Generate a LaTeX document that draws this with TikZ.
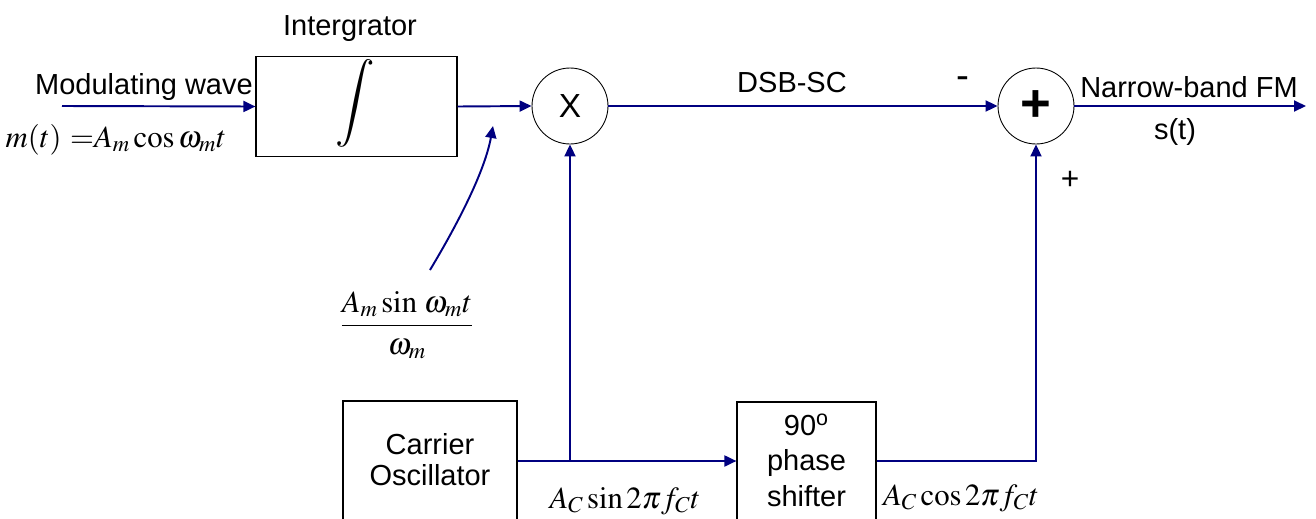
\documentclass[tikz,border=0pt]{standalone}
\usepackage{amsmath}
\usepackage{mathptmx}
\usepackage[no-math]{fontspec}
\setmainfont{Liberation Sans}
\usetikzlibrary{arrows.meta, positioning}
\definecolor{wire}{RGB}{0,0,128}
\tikzset{
  block/.style={
    draw,
    rectangle,
    line width=0.7pt,
  },
  mixer/.style={
    draw,
    circle,
    minimum size=1.52cm,
    inner sep=0pt,
    line width=0.5pt,
  },
  lbl/.style={
    font=\fontsize{16.5}{18}\selectfont,
    inner sep=0pt,
  },
  arrow/.style={
    -{Triangle[length=0.24cm, width=0.22cm]},
    wire,
    line width=1.1pt
  },
  wireline/.style={
    wire,
    line width=1.1pt
  }
}

\begin{document}
\begin{tikzpicture}[x=0.02cm, y=-0.02cm]
  \useasboundingbox (0,0) rectangle (1316,518);
  \clip (0,0) rectangle (1316,518);

  % Blocs
  \node[block, minimum width=4.02cm, minimum height=2cm] (integ) at (356.5,106.5) {};
  \node[inner sep=0pt] (intsign) at (355,103) {\fontsize{25}{25}\selectfont$\displaystyle\int$};
  \node[mixer, font=\fontsize{19}{19}\selectfont] (mult) at (570,106) {X};
  \node[mixer, font=\fontsize{30}{30}\selectfont\bfseries] (sum) at (1036,106) {+};
  \node[block, minimum width=3.48cm, minimum height=2.4cm] (osc) at (430,461) {};
  \node[block, minimum width=2.78cm, minimum height=2.36cm] (shift) at (806.5,461) {};
  \node[lbl, align=center] (osctxt) at (430,459.5) {Carrier\\Oscillator};
  \node[lbl, align=center, font=\fontsize{16.5}{20}\selectfont] (shifttxt) at (806.5,460) {90\textsuperscript{o}\\phase\\shifter};

  % Textes
  \node[lbl, anchor=base] (intlbl) at (350,35) {Intergrator};
  \node[lbl, anchor=base] (modlbl) at (144,94) {Modulating wave};
  \node[lbl, anchor=base, font=\fontsize{17.5}{20}\selectfont] (mtlbl) at (116,147) {$m(t)\ {=}A_m\cos\omega_m t$};
  \node[lbl, anchor=base] (dsblbl) at (792,92) {DSB-SC};
  \node[lbl, anchor=base, font=\fontsize{22}{22}\selectfont] (minus) at (963,88) {-};
  \node[lbl, anchor=base] (nbfm) at (1189,97) {Narrow-band FM};
  \node[lbl, anchor=base] (st) at (1175,139) {s(t)};
  \node[lbl, anchor=base, font=\fontsize{18}{18}\selectfont] (plus) at (1070,189) {+};
  \node[lbl, font=\fontsize{17.5}{20}\selectfont] (frac) at (407,325) {$\dfrac{A_m\sin\,\omega_m t}{\omega_m}$};
  \node[lbl, anchor=base, font=\fontsize{17.5}{20}\selectfont] (sinlbl) at (625,508) {$A_C\sin 2\pi f_C t$};
  \node[lbl, anchor=base, font=\fontsize{17.5}{20}\selectfont] (coslbl) at (961,505) {$A_C\cos 2\pi f_C t$};

  % Points libres
  \coordinate (in) at (62,106);
  \coordinate (out) at (1306,106);
  \coordinate (split) at (mult.south |- osc.east);
  \coordinate (tail) at (430,270);
  \coordinate (aim) at (493,126);

  % Fleches
  \draw[arrow] (in) -- (integ.west);
  \draw[arrow] (integ.east) -- (mult.west);
  \draw[arrow] (mult.east) -- (sum.west);
  \draw[arrow] (sum.east) -- (out);
  \draw[wireline] (osc.east) -- (split);
  \draw[arrow] (split) -- (shift.west);
  \draw[arrow] (split) -- (mult.south);
  \draw[arrow] (shift.east) -| (sum.south);
  \draw[arrow] (tail) .. controls (460,220) and (485,170) .. (aim);

\end{tikzpicture}
\end{document}
